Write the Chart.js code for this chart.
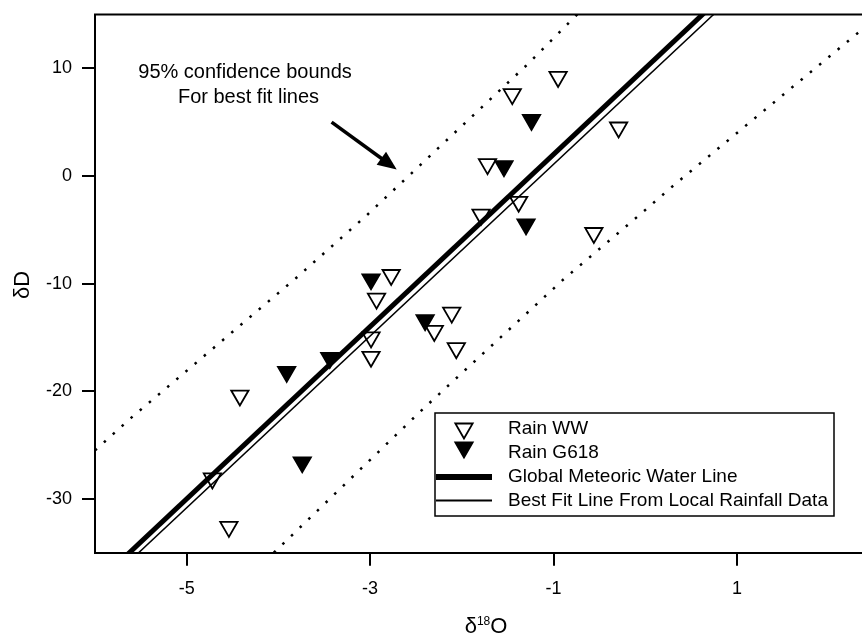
<!DOCTYPE html>
<html><head><meta charset="utf-8">
<script src="https://cdn.jsdelivr.net/npm/chart.js@4.4.0/dist/chart.umd.min.js"></script>
<style>html,body{margin:0;padding:0;background:#fff;overflow:hidden}#wrap{width:862px;height:635px}</style>
</head><body><div id="wrap"><canvas id="c" width="862" height="635"></canvas></div>
<script>
// ---- data ----
const rainWW_x = [-0.95, -1.45, -0.29, -1.72, -1.38, -1.79, -0.56, -2.77, -2.93, -2.11, -2.30, -2.99, -2.99, -2.06, -4.42, -4.72, -4.54];
const rainWW_y = [9.2, 7.6, 4.5, 1.1, -2.4, -3.6, -5.3, -9.2, -11.4, -12.7, -14.4, -15.0, -16.8, -16.0, -20.4, -28.1, -32.6];
const rainG618_x = [-1.24, -1.54, -1.30, -2.99, -2.40, -3.44, -3.91, -3.74];
const rainG618_y = [5.2, 0.9, -4.5, -9.6, -13.4, -16.9, -18.2, -26.6];
const gmwl_x = [-6, 2.4];
const gmwl_y = [-38, 29.2];
const bestFit_x = [-6, 2.4];
const bestFit_y = [-38.8, 28.2];
const upperBound_x = [-6.0, -5.61, -3.81, -3.03, -1.28, -0.72];
const upperBound_y = [-25.5, -22.5, -9.5, -3.6, 10.4, 15.2];
const lowerBound_x = [-4.05, -2.43, -1.96, -0.89, -0.08, 0.32, 2.364];
const lowerBound_y = [-35.0, -21.7, -18.0, -9.6, -3.75, -0.8, 13.6];
const xTicks = [-5, -3, -1, 1];
const yTicks = [-30, -20, -10, 0, 10];
const legendLabels = ['Rain WW', 'Rain G618', 'Global Meteoric Water Line', 'Best Fit Line From Local Rainfall Data'];
const noteLines = ['95% confidence bounds', 'For best fit lines'];

const pts = (xs, ys) => xs.map((x, i) => ({x: x, y: ys[i]}));
const FONT = '"Liberation Sans", Arial, sans-serif';

function tri(ctx, x, y, r, fill) {
  ctx.beginPath();
  ctx.moveTo(x, y + r);
  ctx.lineTo(x - r * Math.sin(Math.PI / 3), y - r / 2);
  ctx.lineTo(x + r * Math.sin(Math.PI / 3), y - r / 2);
  ctx.closePath();
  if (fill) { ctx.fillStyle = '#000'; ctx.fill(); }
  ctx.lineWidth = 1.8; ctx.strokeStyle = '#000'; ctx.stroke();
}

const decor = {
  id: 'decor',
  afterDraw(chart) {
    const ctx = chart.ctx, a = chart.chartArea;
    const xs = chart.scales.x, ys = chart.scales.y;
    ctx.save();
    // top frame line
    ctx.strokeStyle = '#000'; ctx.lineWidth = 2;
    ctx.beginPath(); ctx.moveTo(a.left - 1, a.top); ctx.lineTo(a.right, a.top); ctx.stroke();
    // annotation text
    ctx.fillStyle = '#000';
    ctx.font = '20px ' + FONT;
    ctx.textAlign = 'center'; ctx.textBaseline = 'middle';
    ctx.fillText(noteLines[0], 245, 72);
    ctx.fillText(noteLines[1], 248.5, 97);
    // arrow
    const sx = xs.getPixelForValue(-3.42), sy = ys.getPixelForValue(5.0);
    const tx = xs.getPixelForValue(-2.71), ty = ys.getPixelForValue(0.6);
    const ang = Math.atan2(ty - sy, tx - sx), hl = 19, hw = 8;
    const bx = tx - hl * Math.cos(ang), by = ty - hl * Math.sin(ang);
    ctx.lineWidth = 3.5;
    ctx.beginPath(); ctx.moveTo(sx, sy); ctx.lineTo(bx + 2 * Math.cos(ang), by + 2 * Math.sin(ang)); ctx.stroke();
    ctx.beginPath();
    ctx.moveTo(tx, ty);
    ctx.lineTo(bx + hw * Math.sin(ang), by - hw * Math.cos(ang));
    ctx.lineTo(bx - hw * Math.sin(ang), by + hw * Math.cos(ang));
    ctx.closePath(); ctx.fill();
    // legend
    const L = 435, T = 413, R = 834, B = 516;
    ctx.fillStyle = '#fff'; ctx.fillRect(L, T, R - L, B - T);
    ctx.lineWidth = 1.5; ctx.strokeStyle = '#000'; ctx.strokeRect(L, T, R - L, B - T);
    tri(ctx, 464, 428.5, 10, false);
    tri(ctx, 464, 447.5, 10, true);
    ctx.lineWidth = 6; ctx.beginPath(); ctx.moveTo(436, 477); ctx.lineTo(492, 477); ctx.stroke();
    ctx.lineWidth = 2; ctx.beginPath(); ctx.moveTo(436, 500.5); ctx.lineTo(492, 500.5); ctx.stroke();
    ctx.fillStyle = '#000'; ctx.font = '19px ' + FONT;
    ctx.textAlign = 'left'; ctx.textBaseline = 'middle';
    const rowsY = [429, 453, 477, 501];
    legendLabels.forEach((t, i) => ctx.fillText(t, 508, rowsY[i]));
    // axis titles
    ctx.font = '22px ' + FONT;
    ctx.textBaseline = 'alphabetic';
    const w1 = ctx.measureText('\u03b4').width;
    ctx.font = '12px ' + FONT; const w2 = ctx.measureText('18').width;
    ctx.font = '22px ' + FONT; const w3 = ctx.measureText('O').width;
    let x0 = 486 - (w1 + w2 + w3) / 2, base = 633;
    ctx.textAlign = 'left';
    ctx.fillText('\u03b4', x0, base);
    ctx.font = '12px ' + FONT; ctx.fillText('18', x0 + w1, base - 8);
    ctx.font = '22px ' + FONT; ctx.fillText('O', x0 + w1 + w2, base);
    ctx.translate(22.5, 285); ctx.rotate(-Math.PI / 2);
    ctx.textAlign = 'center'; ctx.textBaseline = 'middle';
    ctx.fillText('\u03b4D', 0, 0);
    ctx.restore();
  }
};

const axisCommon = {
  type: 'linear',
  grid: {display: true, drawOnChartArea: false, drawTicks: true, tickLength: 13, color: '#000', lineWidth: 2},
  border: {display: true, color: '#000', width: 2},
};

new Chart(document.getElementById('c'), {
  type: 'scatter',
  data: {
    datasets: [
      {label: legendLabels[0], data: pts(rainWW_x, rainWW_y), pointStyle: 'triangle', rotation: 180, pointRadius: 10,
       backgroundColor: 'rgba(0,0,0,0)', borderColor: '#000', borderWidth: 1.8, order: 1},
      {label: legendLabels[1], data: pts(rainG618_x, rainG618_y), pointStyle: 'triangle', rotation: 180, pointRadius: 10,
       backgroundColor: '#000', borderColor: '#000', borderWidth: 1.8, order: 0},
      {label: legendLabels[2], type: 'line', data: pts(gmwl_x, gmwl_y), borderColor: '#000', borderWidth: 5,
       pointRadius: 0, fill: false, order: 3},
      {label: legendLabels[3], type: 'line', data: pts(bestFit_x, bestFit_y), borderColor: '#000', borderWidth: 1.5,
       pointRadius: 0, fill: false, order: 4},
      {label: 'upper', type: 'line', data: pts(upperBound_x, upperBound_y), borderColor: '#000', borderWidth: 2.5,
       borderDash: [2.5, 9.5], borderCapStyle: 'butt', pointRadius: 0, fill: false, order: 5},
      {label: 'lower', type: 'line', data: pts(lowerBound_x, lowerBound_y), borderColor: '#000', borderWidth: 2.5,
       borderDash: [2.5, 9.5], borderCapStyle: 'butt', pointRadius: 0, fill: false, order: 6}
    ]
  },
  options: {
    responsive: false, animation: false, devicePixelRatio: 1,
    layout: {autoPadding: false, padding: {top: 14.5, right: 0, left: 0, bottom: 0}},
    plugins: {legend: {display: false}, tooltip: {enabled: false}},
    scales: {
      x: Object.assign({}, axisCommon, {
        min: -6, max: 2.364,
        afterBuildTicks(ax) { ax.ticks = xTicks.map(v => ({value: v})); },
        afterFit(ax) { ax.height = 82.3; ax.paddingLeft = 0; ax.paddingRight = 0; ax.paddingTop = 0; ax.paddingBottom = 0; },
        ticks: {color: '#000', font: {family: FONT, size: 18}, padding: 13, maxRotation: 0, autoSkip: false}
      }),
      y: Object.assign({}, axisCommon, {
        min: -35, max: 15,
        afterBuildTicks(ax) { ax.ticks = yTicks.map(v => ({value: v})); },
        afterFit(ax) { ax.width = 95; ax.paddingLeft = 0; ax.paddingRight = 0; ax.paddingTop = 0; ax.paddingBottom = 0; },
        ticks: {color: '#000', font: {family: FONT, size: 18}, padding: 10, autoSkip: false}
      })
    }
  },
  plugins: [decor]
});
</script></body></html>
